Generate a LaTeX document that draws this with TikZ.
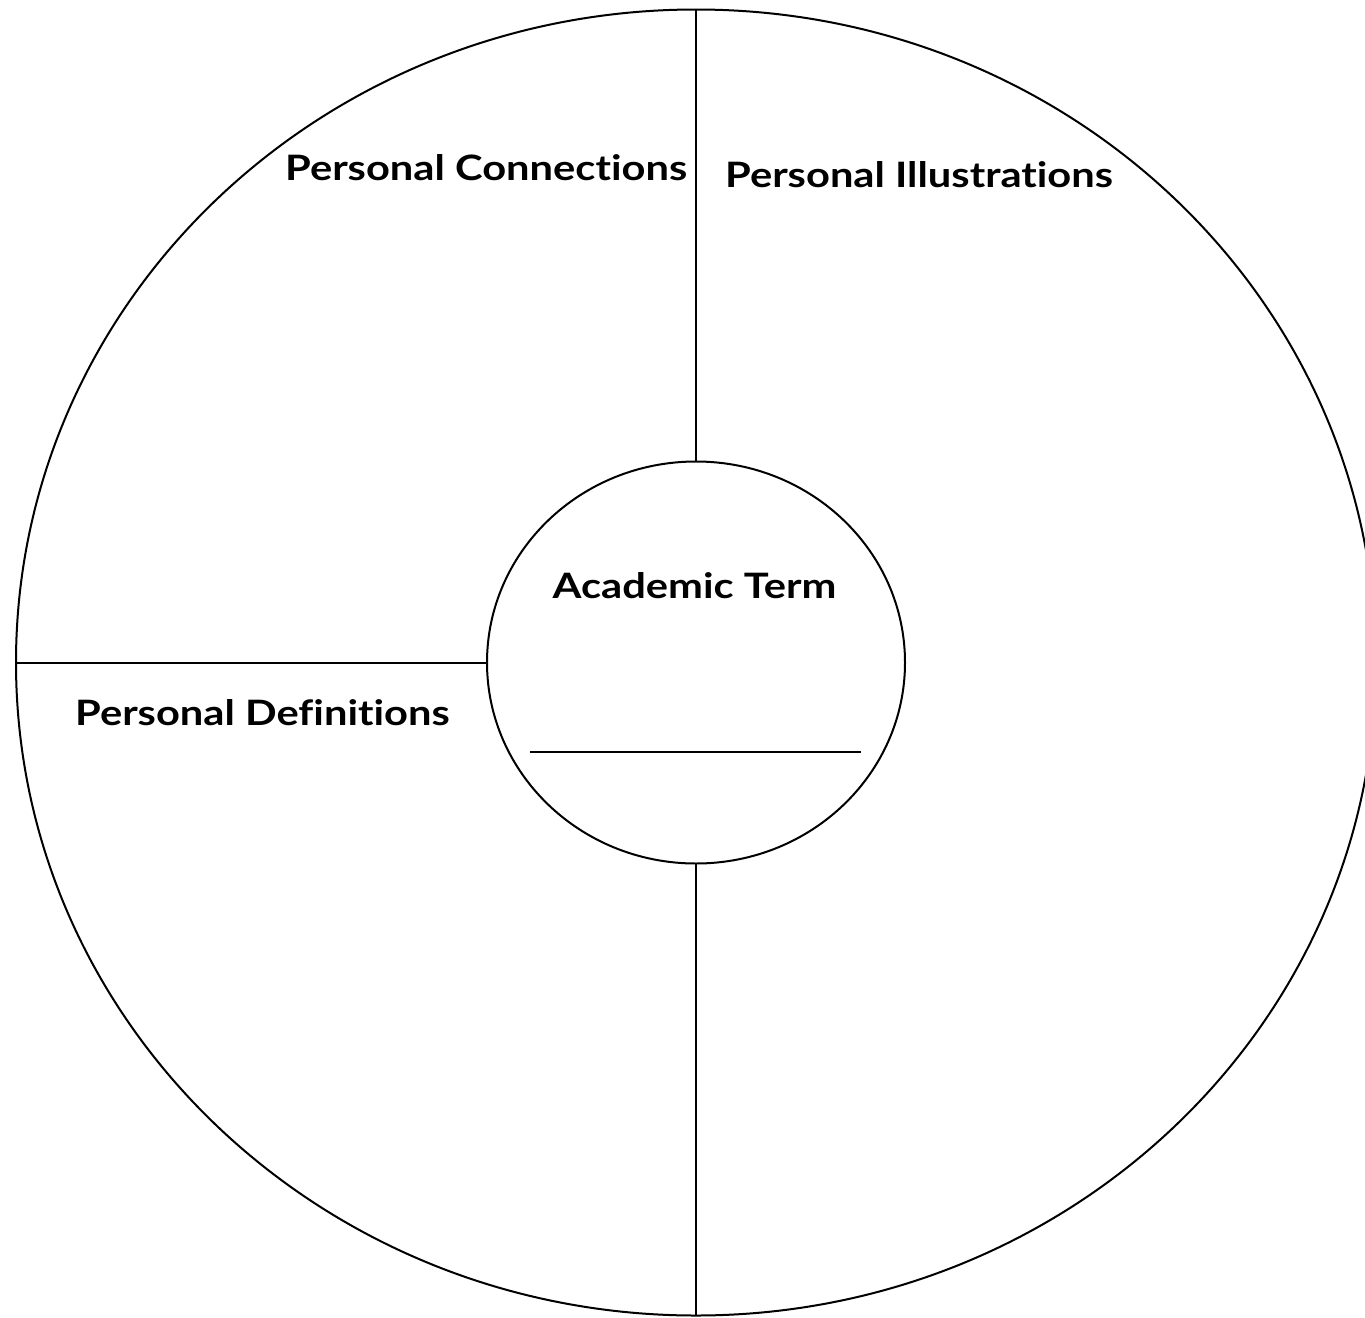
\documentclass[tikz,border=0pt]{standalone}
\usepackage{fontspec}
\setmainfont[FakeStretch=1.19, Ligatures={NoCommon}]{Lato}
\usetikzlibrary{shapes.geometric}
\begin{document}
\begin{tikzpicture}[x=1pt,y=-1pt,
  ring/.style={draw=black, line width=2pt, ellipse, inner sep=0pt, outer sep=0pt},
  rule/.style={draw=black, line width=2pt},
  label/.style={font=\fontsize{35}{42}\selectfont\bfseries, inner sep=0pt, text=black}]
\useasboundingbox (0,0) rectangle (1365,1317);
\fill[white] (0,0) rectangle (1365,1317);
\node[ring, minimum width=1360pt, minimum height=1306pt] (outer) at (696,662.5) {};
\node[ring, minimum width=418pt, minimum height=402pt] (inner) at (696,662.5) {};
\draw[rule] (outer.north) -- (inner.north);
\draw[rule] (inner.south) -- (outer.south);
\draw[rule] (outer.west) -- (inner.west);
\coordinate (lineA) at (530,752);
\coordinate (lineB) at (861,752);
\draw[rule] (lineA) -- (lineB);
\node[label, anchor=base west] (conn) at (285,180) {Personal Connections};
\node[label, anchor=base west] (illu) at (725,187) {Personal Illustrations};
\node[label, anchor=base west] (defn) at (75,725) {Personal Definitions};
\node[label, anchor=base] (term) at (694.5,598) {Academic Term};
\end{tikzpicture}
\end{document}
